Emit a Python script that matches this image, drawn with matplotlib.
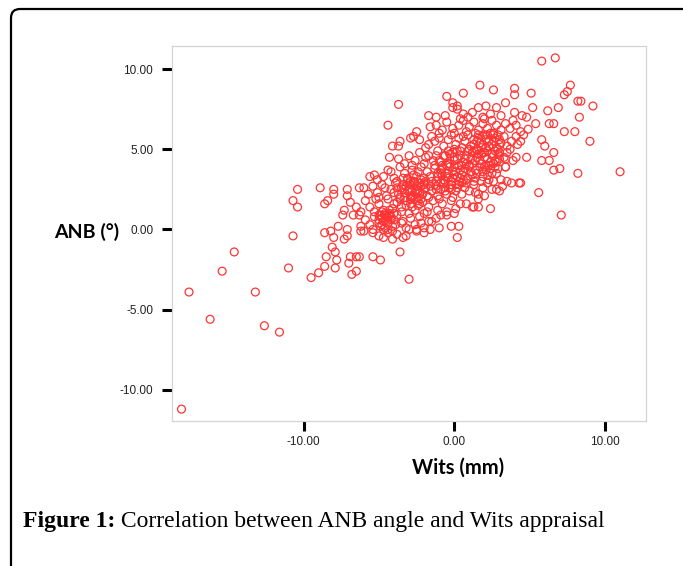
import matplotlib
matplotlib.use("Agg")
import matplotlib.pyplot as plt
from matplotlib.patches import FancyBboxPatch
from matplotlib.transforms import IdentityTransform

# ---------------- data (Wits in mm, ANB in degrees) ----------------
# lower-left tail and sparse low points
wits_tail_low = [-18.1, -17.6, -16.2, -15.4, -14.6, -13.2, -12.6, -11.6, -11.0, -10.7,
                 -10.7, -10.4, -10.4, -9.5, -9.0, -8.9, -8.6, -8.4, -8.0, -8.0,
                 -8.6, -8.2, -8.5, -8.6, -8.1, -8.0, -7.9, -7.8, -7.9, -7.7,
                 -7.4, -7.3, -7.1, -7.1, -7.1, -7.1, -7.3, -7.0, -6.9, -6.5,
                 -6.3, -6.8, -6.5, -6.9, -6.3, -6.5, -6.3, -6.2, -6.2, -6.7,
                 -5.4, -4.9, -3.6, -3.0, -1.0, -0.2, 0.3, 0.2, 2.4, 1.3, 1.6]
anb_tail_low = [-11.2, -3.9, -5.6, -2.6, -1.4, -3.9, -6.0, -6.4, -2.4, -0.4,
                1.8, 2.5, 1.4, -3.0, -2.7, 2.6, 1.6, 1.8, 2.5, 2.2,
                -0.2, -0.1, -1.7, -2.3, -1.1, -0.5, -1.4, -1.9, -2.4, 0.2,
                0.9, 1.2, 2.5, 2.1, 0.0, -0.4, -0.6, -2.1, -1.7, -1.7,
                -1.7, -2.8, -2.6, 1.7, 2.6, 1.4, 0.9, 0.2, -0.1, 0.9,
                -1.7, -1.9, -1.4, -3.1, 0.1, 0.2, 0.2, -0.5, 1.3, 1.4, 1.4]

# upper-right tail and sparse high points
wits_tail_high = [-3.7, -4.4, 5.8, 6.7, 1.7, 2.6, 4.0, 4.0, 5.1, -0.5,
                  0.6, -0.1, 0.2, 7.7, 7.5, 7.3, 8.2, 8.4, 9.2, 6.9,
                  6.2, 5.2, 8.3, 6.3, 6.6, 7.3, 8.0, 5.8, 6.0, 9.0,
                  6.6, 5.8, 6.3, 6.6, 7.0, 8.2, 11.0, 5.6, 7.1, 5.4,
                  4.4, 3.8, 3.4]
anb_tail_high = [7.8, 6.5, 10.5, 10.7, 9.0, 8.7, 8.8, 8.4, 8.5, 8.3,
                 8.5, 7.9, 7.7, 9.0, 8.6, 8.4, 8.0, 8.0, 7.7, 7.6,
                 7.4, 7.6, 7.0, 6.6, 6.6, 6.1, 6.1, 5.6, 5.2, 5.5,
                 4.8, 4.3, 4.3, 3.7, 3.8, 3.5, 3.6, 2.3, 0.9, 6.6,
                 2.9, 2.9, 3.9]

# dense core, ANB >= 4
wits_core_high = [-1.7, -1.2, -0.6, -0.1, 0.2, 0.6, 0.9, 1.6, 2.1, 2.8,
                  3.4, 4.0, 4.5, 4.8, 1.2, 2.4, 3.1, 1.9, 0.4,
                  -2.5, -1.6, -1.2, -0.8, -0.5, -0.1, 0.3, 0.6, 1.0, 1.3,
                  1.6, 1.9, 2.2, 2.5, 2.8, 3.1, 3.4, 3.7, 4.1, 4.4,
                  4.9, 0.0, 1.4, 2.6, -1.0, 3.9, 2.0, 0.8,
                  -2.9, -2.7, -3.6, -4.1, -3.7, -1.5, -1.7, -1.3, -1.0, -0.7,
                  -0.4, -0.2, 0.1, 0.3, 0.5, 0.7, 0.9, 1.1, 1.3, 1.5,
                  1.7, 1.9, 2.1, 2.3, 2.5, 2.7, 2.9, 3.1, 3.3, 3.5,
                  3.8, 4.1, 4.4, 4.6, 4.2, 2.0, 0.0, -1.9, -2.3, 1.0,
                  2.6, 3.0, 1.6, 0.6, 3.7,
                  -4.3, -3.7, -3.3, -3.0, -2.6, -2.3, -2.0, -1.7, -1.4, -1.1,
                  -0.9, -0.6, -0.3, -0.1, 0.2, 0.4, 0.6, 0.8, 1.0, 1.2,
                  1.4, 1.6, 1.8, 2.0, 2.2, 2.4, 2.6, 2.8, 3.0, 3.3,
                  3.5, 3.4, 3.9, 4.1, 4.8, -1.9, -0.8, 0.0, 1.1, 1.5,
                  2.3, -1.3, -2.8, 0.5, 1.9, 2.7, -0.4, 0.9]
anb_core_high = [7.1, 7.0, 7.1, 7.6, 7.5, 7.2, 7.0, 7.6, 7.7, 7.6,
                 7.9, 7.3, 7.1, 7.0, 7.3, 7.2, 7.1, 7.0, 6.9,
                 6.1, 6.4, 6.5, 6.2, 6.7, 6.3, 6.5, 6.8, 6.4, 6.7,
                 6.2, 6.6, 6.3, 6.8, 6.5, 6.2, 6.6, 6.3, 6.5, 6.1,
                 6.25, 6.0, 6.0, 6.0, 6.0, 6.8, 6.9, 6.1,
                 5.7, 5.8, 5.5, 5.2, 5.2, 5.8, 5.3, 5.5, 5.7, 5.2,
                 5.6, 5.9, 5.3, 5.7, 5.1, 5.5, 5.9, 5.2, 5.6, 5.0,
                 5.4, 5.8, 5.1, 5.5, 5.3, 5.7, 5.0, 5.4, 5.8, 5.2,
                 5.5, 5.8, 5.5, 5.9, 5.3, 5.9, 5.0, 5.1, 5.6, 5.0,
                 5.9, 5.6, 5.7, 5.8, 5.0,
                 4.5, 4.4, 4.1, 4.6, 4.3, 4.8, 4.1, 4.6, 4.3, 4.9,
                 4.2, 4.6, 4.1, 4.8, 4.4, 4.9, 4.2, 4.6, 4.0, 4.8,
                 4.3, 4.7, 4.1, 4.5, 4.9, 4.2, 4.6, 4.2, 4.8, 4.5,
                 4.8, 4.4, 4.3, 4.5, 4.5, 4.5, 4.0, 4.5, 4.4, 4.9,
                 4.0, 4.0, 4.0, 4.0, 4.8, 4.9, 4.9, 4.9]

# dense core, 2 <= ANB < 4
wits_core_mid = [-5.3, -5.6, -5.1, -4.7, -4.4, -4.0, -3.6, -3.3, -3.1, -2.8,
                 -2.5, -2.2, -2.0, -1.8, -1.5, -1.3, -1.1, -0.9, -0.7, -0.5,
                 -0.3, -0.1, 0.1, 0.3, 0.5, 0.7, 0.9, 1.1, 1.3, 1.5,
                 1.7, 1.9, 2.1, 2.3, 2.5, 2.8, 3.1, 3.4, 3.5, -2.9,
                 -3.8, -4.2, -0.8, 0.0, 0.6, 1.2, 1.8, 2.2, -1.6, -2.4,
                 -3.4, 2.6, 2.0, 0.4, -0.4, -1.2, 1.0, 1.4, -2.7, 2.9,
                 -6.0, -5.7, -5.4, -5.1, -4.8, -4.5, -4.2, -3.9, -3.7, -3.5,
                 -3.3, -3.1, -2.9, -2.7, -2.5, -2.3, -2.1, -1.9, -1.7, -1.5,
                 -1.3, -1.1, -0.9, -0.7, -0.5, -0.3, -0.1, 0.1, 0.3, 0.5,
                 0.7, 1.0, 1.3, 1.6, 1.9, 2.2, 2.5, 2.8, 3.0, 4.3,
                 -3.0, -2.6, -2.2, -3.4, -2.8, -1.6, -4.0, -4.6, -5.0, -0.6,
                 0.2, 1.4, 2.0, -2.4, -1.2, -3.8, -2.0, 0.8, -0.2, 3.2]
anb_core_mid = [3.4, 3.3, 3.1, 3.3, 3.7, 3.2, 3.9, 3.5, 3.1, 3.7,
                3.3, 3.9, 3.2, 3.6, 3.0, 3.8, 3.3, 3.7, 3.1, 3.5,
                3.9, 3.2, 3.6, 3.0, 3.4, 3.8, 3.2, 3.6, 3.0, 3.5,
                3.9, 3.3, 3.7, 3.1, 3.5, 3.5, 3.1, 3.9, 3.0, 3.0,
                3.0, 3.6, 3.4, 3.9, 3.1, 3.4, 3.0, 3.4, 3.3, 3.6,
                3.2, 3.0, 3.9, 3.7, 3.2, 3.0, 3.9, 3.2, 3.4, 3.8,
                2.6, 2.2, 2.7, 2.3, 2.8, 2.1, 2.5, 2.9, 2.2, 2.6,
                2.0, 2.4, 2.8, 2.1, 2.5, 2.9, 2.2, 2.6, 2.0, 2.4,
                2.8, 2.1, 2.5, 2.9, 2.2, 2.6, 2.0, 2.4, 2.8, 2.2,
                2.6, 2.4, 2.8, 2.2, 2.6, 2.9, 2.5, 2.5, 2.4, 2.9,
                2.5, 2.3, 2.7, 2.8, 2.0, 2.7, 2.3, 2.6, 2.0, 2.4,
                2.6, 2.3, 2.1, 2.0, 2.5, 2.6, 2.9, 2.9, 2.8, 2.7]

# dense core, ANB < 2
wits_core_low = [-6.2, -5.9, -5.6, -5.3, -5.0, -4.7, -4.4, -4.1,
                 -3.8, -3.5, -3.2, -2.9, -2.6, -2.3, -2.0, -1.7, -1.4, -1.1,
                 -0.8, -0.5, -0.2, 0.1, 0.4, 0.8, 1.2, 1.6, -3.0, -2.4,
                 -4.6, -5.2, -3.6, -1.0, 0.0, -1.8, -2.8, -4.0, -4.9, -4.5,
                 -4.3,
                 -5.9, -5.6, -5.3, -5.0, -4.7, -4.4, -4.1, -3.8, -3.5, -3.2,
                 -2.9, -2.6, -2.3, -2.0, -1.7, -1.5, -0.9, -0.5, -4.0, -3.0,
                 -2.5, -4.8, -5.4, -1.2, -2.2, -3.4, -4.4, -5.0, -4.6, -4.2,
                 -5.4, -5.0, -4.7, -4.1, -3.4, -3.2, -2.5, -2.0, -1.6, -3.8,
                 -4.4, -6.0]
anb_core_low = [1.1, 1.8, 1.4, 1.1, 1.6, 1.2, 1.9, 1.3,
                1.7, 1.1, 1.5, 1.9, 1.2, 1.6, 1.0, 1.4, 1.8, 1.2,
                1.6, 1.1, 1.8, 1.3, 1.6, 1.6, 1.4, 1.9, 1.0, 1.8,
                1.0, 1.9, 1.9, 1.9, 1.0, 1.1, 1.4, 1.6, 0.9, 0.9,
                1.0,
                0.6, 0.3, 0.8, 0.4, 0.0, 0.7, 0.2, 0.9, 0.4, 0.1,
                0.7, 0.3, 0.8, 0.1, 0.5, 0.5, 0.9, 0.9, 0.6, 0.0,
                0.0, 0.3, 0.0, 0.7, 0.4, 0.5, 0.0, 0.9, 0.9, 0.8,
                -0.2, -0.4, -0.5, -0.6, -0.5, -0.4, -0.1, -0.2, 0.0, -0.3,
                -0.2, -0.1]

# extra points in the densest clumps
wits_core_dense = [-3.5, -3.3, -3.2, -3.0, -2.9, -2.8, -2.7, -2.6, -2.5, -2.4,
                   -2.3, -2.2, -2.1, -2.0, -1.9, -1.8, -3.4, -3.1, -2.9, -2.6,
                   -2.4, -2.2, -2.0, -3.6, -3.2,
                   -1.2, -1.1, -1.0, -0.9, -0.8, -0.7, -0.6, -0.5, -0.4, -0.3,
                   -0.2, -0.1, 0.0, 0.1, 0.2, 0.3, 0.4, 0.5, 0.6, 0.7,
                   0.8, -1.2, -0.9, -0.5, 0.0, 0.4, 0.8, -0.6, 0.2, -0.2,
                   1.2, 1.3, 1.4, 1.5, 1.6, 1.7, 1.8, 1.9, 2.0, 2.1,
                   2.2, 2.3, 2.4, 2.5, 2.6, 2.7, 2.8, 2.9, 3.0, 1.5,
                   1.8, 2.1, 2.4, 2.7, 3.0, 1.3, 2.2, 2.6, 1.9, 2.9,
                   -5.0, -4.9, -4.8, -4.7, -4.6, -4.5, -4.4, -4.3, -4.2, -4.1,
                   -4.0, -3.9, -4.6, -4.3, -4.8]
anb_core_dense = [1.4, 2.3, 1.8, 2.9, 1.6, 2.4, 3.0, 1.9, 2.7, 1.5,
                  2.3, 3.1, 1.7, 2.5, 3.0, 2.1, 2.5, 3.2, 2.1, 2.9,
                  2.4, 1.9, 2.8, 2.0, 2.7,
                  2.7, 3.5, 4.3, 2.9, 3.8, 4.6, 2.6, 3.3, 4.1, 4.7,
                  3.0, 3.6, 4.3, 2.8, 3.3, 4.0, 4.6, 2.9, 3.6, 4.4,
                  3.1, 4.6, 3.5, 4.0, 3.4, 3.2, 4.1, 3.0, 4.9, 2.5,
                  4.1, 5.3, 3.7, 4.5, 5.9, 4.3, 5.1, 3.6, 4.8, 5.6,
                  4.4, 5.2, 3.8, 4.7, 5.5, 4.3, 5.1, 5.9, 4.4, 5.5,
                  4.7, 4.0, 6.0, 3.9, 5.3, 4.9, 5.9, 4.1, 5.3, 4.7,
                  0.6, 0.2, 1.1, 0.5, 0.1, 0.8, 0.4, 1.2, 0.6, -0.1,
                  1.0, 0.3, 0.6, 0.9, 0.7]

x_ticks = [-10, 0, 10]
y_ticks = [-10, -5, 0, 5, 10]
x_label = "Wits (mm)"
y_label = "ANB (°)"
caption_bold = "Figure 1:"
caption_text = " Correlation between ANB angle and Wits appraisal"

wits = (wits_tail_low + wits_tail_high + wits_core_high + wits_core_mid
        + wits_core_low + wits_core_dense)
anb = (anb_tail_low + anb_tail_high + anb_core_high + anb_core_mid
       + anb_core_low + anb_core_dense)
assert len(wits) == len(anb)

# ---------------- figure ----------------
W, H = 683, 566
fig = plt.figure(figsize=(W / 100, H / 100), dpi=100)
fig.patch.set_facecolor("white")

# outer rounded frame (right and bottom edges fall outside the image)
frame = FancyBboxPatch((11, -60), 700, 617, boxstyle="round,pad=0,rounding_size=9",
                       transform=IdentityTransform(), fill=False, lw=1.6, ec="black")
fig.add_artist(frame)

L, R, T, B = 172, 646, 46, 421
ax = fig.add_axes([L / W, (H - B) / H, (R - L) / W, (B - T) / H])

ax.scatter(wits, anb, s=32, facecolors="none", edgecolors="#ff3535", linewidths=0.9, zorder=3)

ax.set_xlim(-18.73, 12.72)
ax.set_ylim(-11.94, 11.44)
ax.set_xticks(x_ticks)
ax.set_yticks(y_ticks)
ax.set_xticklabels([f"{v:.2f}" for v in x_ticks])
ax.set_yticklabels([f"{v:.2f}" for v in y_ticks])

for s in ax.spines.values():
    s.set_color("#d4d4d4")
    s.set_linewidth(0.9)

ax.tick_params(axis="both", direction="out", length=7, width=2.2, color="black",
               labelsize=8.5, labelcolor="#222222")
ax.tick_params(axis="y", pad=6.5)
ax.tick_params(axis="x", pad=4)
for lab in ax.get_xticklabels() + ax.get_yticklabels():
    lab.set_family("Liberation Sans")

fig.text(87 / W, (H - 232) / H, y_label, ha="center", va="center",
         fontsize=14, fontweight="bold", family="Lato")
fig.text(458 / W, (H - 468) / H, x_label, ha="center", va="center",
         fontsize=14.5, fontweight="bold", family="Lato")

t1 = fig.text(23 / W, (H - 527) / H, caption_bold, ha="left", va="baseline",
              fontsize=17, fontweight="bold", family="Liberation Serif")
fig.canvas.draw()
ext = t1.get_window_extent()
fig.text(ext.x1 / W, (H - 527) / H, caption_text, ha="left", va="baseline",
         fontsize=17, family="Liberation Serif")

fig.savefig("out.png", dpi=100)
